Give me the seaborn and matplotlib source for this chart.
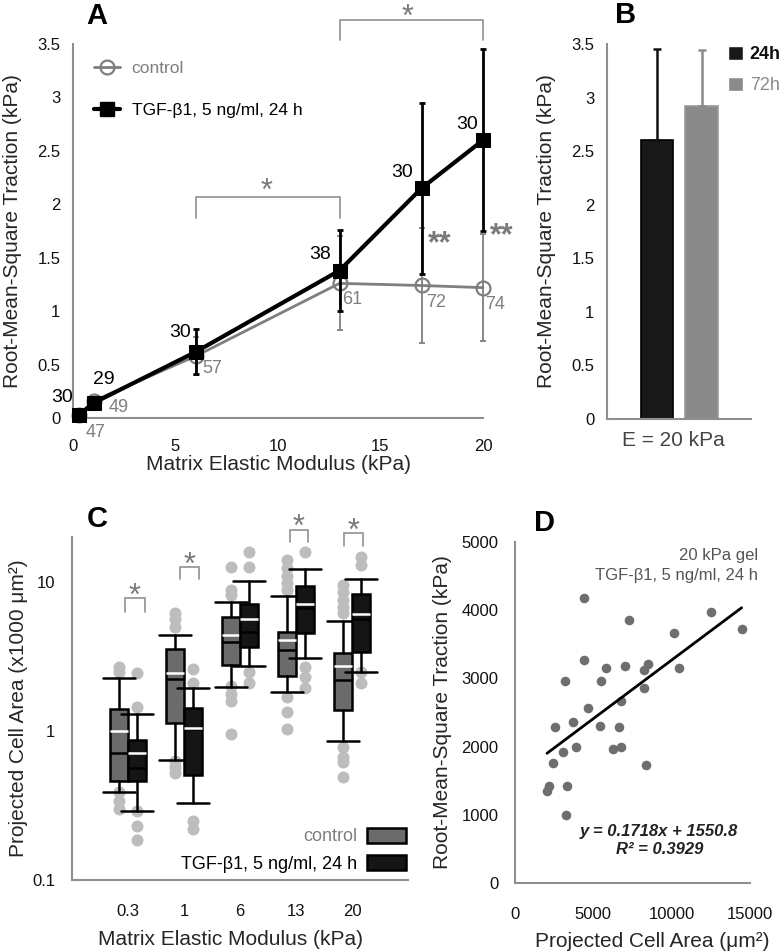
import numpy as np
import pandas as pd
import matplotlib
matplotlib.use("Agg")
import matplotlib.pyplot as plt
import seaborn as sns
from matplotlib.patches import Patch
from matplotlib.lines import Line2D
from matplotlib.ticker import LogLocator, NullFormatter

# ------------------------------------------------------------------ data
# Panel A: RMS traction vs. matrix elastic modulus
A_modulus = [0.3, 1, 6, 13, 17, 20]
A_ctrl_mean = [0.03, 0.16, 0.58, 1.26, 1.24, 1.22]
A_ctrl_err = [0.02, 0.04, 0.18, 0.44, 0.54, 0.50]
A_tgf_mean = [0.03, 0.14, 0.62, 1.38, 2.15, 2.60]
A_tgf_err = [0.02, 0.04, 0.21, 0.38, 0.80, 0.85]
A_ctrl_n = [47, 49, 57, 61, 72, 74]
A_tgf_n = [30, 29, 30, 38, 30, 30]
A_xticks = [0, 5, 10, 15, 20]
A_yticks = [0, 0.5, 1, 1.5, 2, 2.5, 3, 3.5]
A_yticklabels = ["0", "0.5", "1", "1.5", "2", "2.5", "3", "3.5"]

# Panel B: E = 20 kPa, 24h vs 72h
B_groups = ["24h", "72h"]
B_mean = [2.60, 2.92]
B_err = [0.85, 0.52]

# Panel C: projected cell area (x1000 um^2), box statistics
C_categories = ["0.3", "1", "6", "13", "20"]
C_ctrl_whislo = [0.39, 0.64, 1.96, 1.82, 0.85]
C_ctrl_q1 = [0.46, 1.13, 2.75, 2.33, 1.38]
C_ctrl_med = [0.71, 2.22, 3.98, 3.47, 2.19]
C_ctrl_mean = [1.00, 2.44, 4.43, 4.10, 2.71]
C_ctrl_q3 = [1.40, 3.52, 5.85, 4.64, 3.31]
C_ctrl_whishi = [2.26, 4.43, 7.36, 8.07, 5.50]
C_tgf_whislo = [0.29, 0.33, 2.71, 3.07, 2.47]
C_tgf_q1 = [0.46, 0.51, 3.63, 4.57, 3.36]
C_tgf_med = [0.56, 1.03, 4.64, 6.70, 5.60]
C_tgf_mean = [0.71, 1.05, 5.67, 7.10, 6.10]
C_tgf_q3 = [0.87, 1.42, 7.10, 9.40, 8.30]
C_tgf_whishi = [1.30, 1.94, 10.2, 12.2, 10.5]
C_ctrl_dots = [
    [2.7, 2.5, 0.39, 0.34, 0.30],
    [6.2, 5.6, 5.0, 0.63, 0.57, 0.52],
    [12.6, 8.8, 8.2, 2.0, 1.76, 1.58, 0.95],
    [14.0, 12.4, 10.9, 9.8, 8.8, 1.70, 1.34, 1.03],
    [9.5, 8.5, 7.5, 6.8, 6.2, 0.78, 0.67, 0.62, 0.49],
]
C_tgf_dots = [
    [2.43, 1.44, 0.29, 0.23, 0.185],
    [2.6, 2.1, 0.25, 0.22],
    [15.8, 12.6, 2.47, 2.1],
    [15.8, 2.67, 2.3, 1.94],
    [14.7, 12.9, 2.47, 2.1],
]
C_yticks = [0.1, 1, 10]
C_yticklabels = ["0.1", "1", "10"]

# Panel D: traction vs projected area, 20 kPa gel
D_area = [4426, 7298, 12511, 14468, 10170, 10489, 4404, 3191, 5787, 7021,
          8234, 8510, 5489, 8255, 6766, 4681, 2553, 3723, 5426, 6660,
          3872, 6234, 6766, 3085, 2404, 8362, 2191, 2043, 3298, 3255]
D_traction = [4180, 3854, 3971, 3722, 3659, 3156, 3268, 2966, 3146, 3185,
              3122, 3205, 2956, 2859, 2668, 2571, 2293, 2356, 2307, 2283,
              2000, 1961, 2000, 1927, 1766, 1732, 1424, 1356, 1415, 990]
D_slope = 0.1718
D_intercept = 1550.8
D_r2 = 0.3929

# ------------------------------------------------------------------ layout / style
sns.set_style("white")
plt.rcParams["font.family"] = ["Liberation Sans", "DejaVu Sans"]

W, H = 779, 952
fig = plt.figure(figsize=(W / 100, H / 100), dpi=100)

SPINE = "#8f8f8f"
GRAY = "#7f7f7f"
STAR = "#7a7a7a"
CTRL_BOX = "#6b6b6b"
TGF_BOX = "#151515"
DOT_C = "#bdbdbd"
DOT_D = "#6e6e6e"
LAB = 15
TICK = 12


def add_ax(l, t, r, b):
    return fig.add_axes([l / W, 1 - b / H, (r - l) / W, (b - t) / H])


def style_axes(ax):
    for s in ["top", "right"]:
        ax.spines[s].set_visible(False)
    for s in ["left", "bottom"]:
        ax.spines[s].set_color(SPINE)
        ax.spines[s].set_linewidth(1.5)
    ax.tick_params(axis="both", which="both", color=SPINE, labelcolor="#111111",
                   labelsize=TICK, width=1.2, length=4, direction="out")
    ax.grid(False)


def star(ax, x, y, text, size=22, bold=False):
    # place asterisk(s) so that the glyph centre sits at (x, y)
    ax.annotate(text, (x, y), xytext=(0, -0.57 * size * 100 / 72),
                textcoords="offset pixels", ha="center", va="baseline",
                fontsize=size, color=STAR, fontweight="bold" if bold else "normal",
                annotation_clip=False)


def bracket(ax, x0, x1, ytop, ybot, lw=1.3):
    ax.plot([x0, x0, x1, x1], [ybot, ytop, ytop, ybot], color="#9a9a9a",
            lw=lw, clip_on=False, solid_joinstyle="miter")


# ================================================================== Panel A
axA = add_ax(73, 44, 483, 418)
style_axes(axA)
dfA = pd.DataFrame({"E": A_modulus, "ctrl": A_ctrl_mean, "tgf": A_tgf_mean})

axA.errorbar(A_modulus, A_ctrl_mean, yerr=A_ctrl_err, fmt="none", ecolor=GRAY,
             elinewidth=1.3, capsize=2.5, capthick=1.3, zorder=2, clip_on=False)
sns.lineplot(data=dfA, x="E", y="ctrl", ax=axA, color=GRAY, lw=2.0, marker="o",
             markersize=10, markerfacecolor="none", markeredgecolor=GRAY,
             markeredgewidth=1.6, zorder=3, clip_on=False)
axA.errorbar(A_modulus, A_tgf_mean, yerr=A_tgf_err, fmt="none", ecolor="black",
             elinewidth=2.0, capsize=2.5, capthick=2.0, zorder=4, clip_on=False)
sns.lineplot(data=dfA, x="E", y="tgf", ax=axA, color="black", lw=3.0, marker="s",
             markersize=10, markerfacecolor="black", markeredgecolor="black",
             zorder=5, clip_on=False)

axA.set_xlim(0, 20)
axA.set_ylim(0, 3.5)
axA.set_xticks(A_xticks)
axA.set_xticklabels([str(v) for v in A_xticks])
axA.set_yticks(A_yticks)
axA.set_yticklabels(A_yticklabels)
axA.tick_params(axis="x", pad=11)
axA.tick_params(axis="y", pad=5)
axA.set_xlabel("Matrix Elastic Modulus (kPa)", fontsize=LAB)
axA.set_ylabel("Root-Mean-Square Traction (kPa)", fontsize=LAB)
axA.xaxis.set_label_coords(0.502, -0.100)
axA.yaxis.set_label_coords(-0.124, 0.5)

tgf_off = [(-17, 17), (10, 24), (-16, 19), (-19, 16), (-19, 16), (-16, 16)]
ctrl_off = [(16, -18), (25, -7), (16, -12), (13, -16), (15, -17), (12, -17)]
for x, y, n, off in zip(A_modulus, A_tgf_mean, A_tgf_n, tgf_off):
    axA.annotate(str(n), (x, y), xytext=off, textcoords="offset pixels",
                 ha="center", va="center", fontsize=14, color="black",
                 annotation_clip=False, zorder=6)
for x, y, n, off in zip(A_modulus, A_ctrl_mean, A_ctrl_n, ctrl_off):
    axA.annotate(str(n), (x, y), xytext=off, textcoords="offset pixels",
                 ha="center", va="center", fontsize=13, color=GRAY,
                 annotation_clip=False, zorder=6)

bracket(axA, 6, 13, 2.07, 1.87)
star(axA, 9.46, 2.20, "*")
bracket(axA, 13, 20, 3.72, 3.54)
star(axA, 16.3, 3.83, "*")
star(axA, 17.9, 1.71, "**", bold=True)
star(axA, 20.9, 1.79, "**", bold=True)

legA = axA.legend(
    handles=[Line2D([], [], color=GRAY, lw=2, marker="o", markersize=10,
                    markerfacecolor="none", markeredgecolor=GRAY, markeredgewidth=1.6),
             Line2D([], [], color="black", lw=3, marker="s", markersize=10,
                    markerfacecolor="black")],
    labels=["control", "TGF-β1, 5 ng/ml, 24 h"],
    loc="upper left", bbox_to_anchor=(0.05, 0.955), frameon=False,
    fontsize=12.5, handlelength=1.5, handletextpad=0.7, labelspacing=1.55,
    borderpad=0, borderaxespad=0)
legA.get_texts()[0].set_color(GRAY)
legA.get_texts()[1].set_color("black")

# ================================================================== Panel B
axB = add_ax(607, 44, 751, 419)
style_axes(axB)
sns.barplot(x=B_groups, y=B_mean, hue=B_groups, palette=["#181818", "#8a8a8a"],
            width=0.72, ax=axB, legend=False, errorbar=None, saturation=1)
for patch, ec in zip(axB.patches, ["#000000", "#9a9a9a"]):
    patch.set_edgecolor(ec)
    patch.set_linewidth(1.2)
for i, (m, e, c) in enumerate(zip(B_mean, B_err, ["#111111", "#8a8a8a"])):
    axB.errorbar([i], [m], yerr=[[0], [e]], fmt="none", ecolor=c, elinewidth=1.8,
                 capsize=3, capthick=1.8, zorder=4, clip_on=False)
axB.set_xlim(-1.12, 2.11)
axB.set_ylim(0, 3.5)
axB.set_yticks(A_yticks)
axB.set_yticklabels(A_yticklabels)
axB.set_xticks([0.36])
axB.set_xticklabels(["E = 20 kPa"], fontsize=15, color="#444444")
axB.tick_params(axis="x", length=0, pad=9, labelsize=15, labelcolor="#444444")
axB.tick_params(axis="y", pad=5)
axB.set_xlabel("")
axB.set_ylabel("Root-Mean-Square Traction (kPa)", fontsize=LAB)
axB.yaxis.set_label_coords(-0.354, 0.5)
legB = axB.legend(handles=[Patch(facecolor="#181818"), Patch(facecolor="#8a8a8a")],
                  labels=B_groups, loc="upper left", bbox_to_anchor=(0.84, 0.995),
                  frameon=False, fontsize=13, handlelength=0.85, handleheight=0.85,
                  handletextpad=0.35, labelspacing=0.75, borderpad=0, borderaxespad=0)
legB.get_texts()[0].set_fontweight("bold")
legB.get_texts()[0].set_color("#111111")
legB.get_texts()[1].set_color("#8a8a8a")

# ================================================================== Panel C
axC = add_ax(72, 537, 408, 880)
style_axes(axC)
axC.set_yscale("log")
axC.set_xlim(-1, 5)
axC.set_ylim(0.1, 20)

idx = np.arange(len(C_categories))
dodge = 0.165
dot_x, dot_y = [], []
for i in idx:
    for v in C_ctrl_dots[i]:
        dot_x.append(i - dodge)
        dot_y.append(v)
    for v in C_tgf_dots[i]:
        dot_x.append(i + dodge)
        dot_y.append(v)
sns.scatterplot(x=dot_x, y=dot_y, ax=axC, color=DOT_C, s=75, linewidth=0, zorder=1)


def box_stats(whislo, q1, med, mean, q3, whishi):
    return [dict(whislo=a, q1=b, med=c, mean=d, q3=e, whishi=f, fliers=[])
            for a, b, c, d, e, f in zip(whislo, q1, med, mean, q3, whishi)]


common = dict(widths=0.33, capwidths=0.57, patch_artist=True, showmeans=True,
              meanline=True, showfliers=False, manage_ticks=False,
              medianprops=dict(color="black", linewidth=1.8),
              meanprops=dict(color="white", linewidth=1.8, linestyle="-"),
              whiskerprops=dict(color="black", linewidth=1.8),
              capprops=dict(color="black", linewidth=1.8))
bC = axC.bxp(box_stats(C_ctrl_whislo, C_ctrl_q1, C_ctrl_med, C_ctrl_mean, C_ctrl_q3,
                       C_ctrl_whishi), positions=idx - dodge,
             boxprops=dict(facecolor=CTRL_BOX, edgecolor="black", linewidth=1.8),
             zorder=2, **common)
bT = axC.bxp(box_stats(C_tgf_whislo, C_tgf_q1, C_tgf_med, C_tgf_mean, C_tgf_q3,
                       C_tgf_whishi), positions=idx + dodge,
             boxprops=dict(facecolor=TGF_BOX, edgecolor="black", linewidth=1.8),
             zorder=3, **common)
for art in bC["means"] + bC["medians"]:
    art.set_zorder(2.5)
for art in bT["medians"]:
    art.set_zorder(3.5)
for art in bT["means"]:
    art.set_zorder(3.6)

axC.set_xticks(idx)
axC.set_xticklabels(C_categories)
axC.set_yticks(C_yticks)
axC.set_yticklabels(C_yticklabels)
axC.yaxis.set_minor_locator(LogLocator(base=10, subs=np.arange(2, 10)))
axC.yaxis.set_minor_formatter(NullFormatter())
axC.tick_params(axis="y", which="major", length=8, color="#b0b0b0", pad=4)
axC.tick_params(axis="y", which="minor", length=4, color="#c8c8c8")
axC.tick_params(axis="x", length=7, pad=10)
axC.set_xlabel("Matrix Elastic Modulus (kPa)", fontsize=LAB)
axC.set_ylabel("Projected Cell Area (x1000 μm²)", fontsize=LAB)
axC.xaxis.set_label_coords(0.473, -0.146)
axC.yaxis.set_label_coords(-0.131, 0.5)

sig_left = [-0.05, 0.93, 2.89, 3.86]
sig_right = [0.30, 1.27, 3.21, 4.20]
sig_top = [7.8, 12.6, 22.2, 21.2]
sig_bot = [6.3, 10.5, 18.5, 17.4]
sig_star = [9.2, 14.7, 26.7, 25.1]
for l, r, t, b, s in zip(sig_left, sig_right, sig_top, sig_bot, sig_star):
    bracket(axC, l, r, t, b)
    star(axC, (l + r) / 2, s, "*")

legC = axC.legend(
    handles=[Patch(facecolor=CTRL_BOX, edgecolor="black", linewidth=1.8),
             Patch(facecolor=TGF_BOX, edgecolor="black", linewidth=1.8)],
    labels=["control", "TGF-β1, 5 ng/ml, 24 h"], loc="lower right",
    bbox_to_anchor=(0.995, 0.02), frameon=False, fontsize=13, markerfirst=False,
    handlelength=2.2, handleheight=0.9, handletextpad=0.5, labelspacing=0.55,
    borderpad=0, borderaxespad=0)
legC.get_texts()[0].set_color(GRAY)
legC.get_texts()[1].set_color("black")

# ================================================================== Panel D
axD = add_ax(515, 542, 750, 883)
style_axes(axD)
sns.scatterplot(x=D_area, y=D_traction, ax=axD, color=DOT_D, s=48, linewidth=0,
                zorder=2)
fit_x = np.array([min(D_area), max(D_area)])
fit_y = D_slope * fit_x + D_intercept
sns.lineplot(x=fit_x, y=fit_y, ax=axD, color="black", lw=2.0, zorder=3)
axD.set_xlim(0, 15000)
axD.set_ylim(0, 5000)
axD.set_xticks([0, 5000, 10000, 15000])
axD.set_xticklabels(["0", "5000", "10000", "15000"])
axD.set_yticks([0, 1000, 2000, 3000, 4000, 5000])
axD.set_yticklabels(["0", "1000", "2000", "3000", "4000", "5000"])
axD.tick_params(axis="x", pad=13)
axD.tick_params(axis="y", pad=8)
axD.set_xlabel("Projected Cell Area (μm²)", fontsize=LAB)
axD.set_ylabel("Root-Mean-Square Traction (kPa)", fontsize=LAB)
axD.xaxis.set_label_coords(0.583, -0.144)
axD.yaxis.set_label_coords(-0.268, 0.5)
axD.text(1.034, 0.959, "20 kPa gel", transform=axD.transAxes, ha="right",
         va="center", fontsize=12, color="#555555")
axD.text(1.034, 0.903, "TGF-β1, 5 ng/ml, 24 h", transform=axD.transAxes,
         ha="right", va="center", fontsize=12, color="#555555")
axD.text(0.613, 0.152, f"y = {D_slope}x + {D_intercept}", transform=axD.transAxes,
         ha="center", va="center", fontsize=12, fontweight="bold",
         fontstyle="italic", color="#222222")
axD.text(0.617, 0.097, f"R² = {D_r2}", transform=axD.transAxes, ha="center",
         va="center", fontsize=12, fontweight="bold", fontstyle="italic",
         color="#222222")

# ================================================================== panel letters
for letter, (x, y) in {"A": (97, 16), "B": (626, 15), "C": (97, 519),
                       "D": (544, 523)}.items():
    fig.text(x / W, 1 - y / H, letter, ha="center", va="center", fontsize=21,
             fontweight="bold", color="black")

fig.savefig("out.png", dpi=100)
